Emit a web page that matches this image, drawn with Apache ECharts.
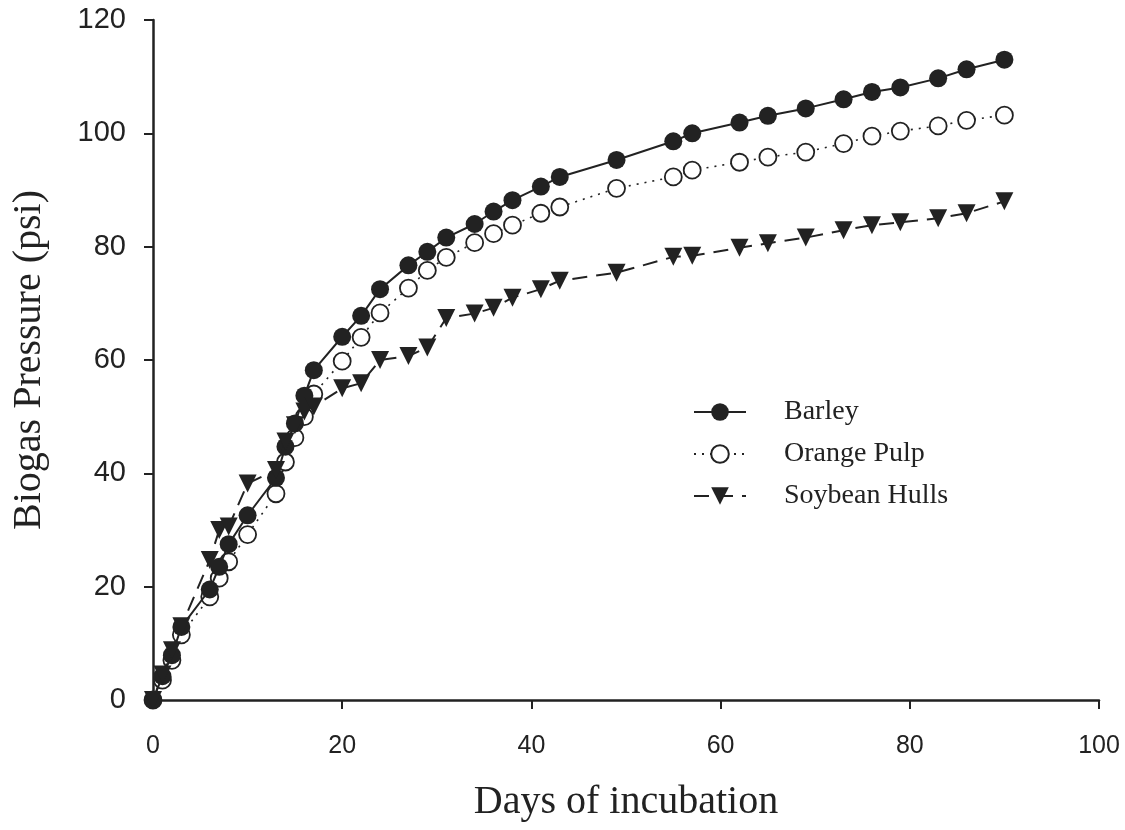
<!DOCTYPE html>
<html>
<head>
<meta charset="utf-8">
<script src="https://cdn.jsdelivr.net/npm/echarts@6/dist/echarts.min.js"></script>
<style>
  html, body { margin: 0; padding: 0; background: #fff; }
  #chart { width: 1125px; height: 830px; }
</style>
</head>
<body>
<div id="chart"></div>
<script>
// days of incubation (shared by all three series)
var days = [0, 1, 2, 3, 6, 7, 8, 10, 13, 14, 15, 16, 17, 20, 22, 24, 27, 29, 31, 34, 36, 38,
            41, 43, 49, 55, 57, 62, 65, 69, 73, 76, 79, 83, 86, 90];

var barley = [0, 4.2, 7.9, 12.9, 19.5, 23.5, 27.5, 32.6, 39.2, 44.7, 48.8, 53.7, 58.2, 64.1, 67.8, 72.5,
              76.7, 79.1, 81.6, 84.0, 86.2, 88.2, 90.6, 92.3, 95.3, 98.6, 100.0, 101.9, 103.1, 104.4,
              106.0, 107.3, 108.1, 109.7, 111.3, 113.0];

var orangePulp = [0, 3.5, 7.0, 11.5, 18.2, 21.5, 24.4, 29.2, 36.4, 42.0, 46.3, 50.0, 54.0, 59.8, 64.0, 68.3,
                  72.7, 75.8, 78.1, 80.7, 82.3, 83.8, 85.9, 87.0, 90.3, 92.3, 93.5, 94.9, 95.8, 96.7,
                  98.2, 99.5, 100.4, 101.3, 102.3, 103.2];

var soybeanHulls = [0, 4.5, 8.8, 13.0, 24.7, 30.0, 30.6, 38.2, 40.6, 45.6, 48.5, 50.9, 51.8, 55.0, 55.9, 60.0,
                    60.7, 62.2, 67.4, 68.2, 69.2, 71.0, 72.5, 74.0, 75.4, 78.2, 78.4, 79.8, 80.6, 81.6,
                    82.9, 83.8, 84.3, 85.0, 85.9, 88.0];

var xTicks = [0, 20, 40, 60, 80, 100];
var yTicks = [0, 20, 40, 60, 80, 100, 120];

function pairs(xs, ys) {
    var out = [];
    for (var i = 0; i < xs.length; i++) {
        out.push([xs[i], ys[i]]);
    }
    return out;
}

var myChart = echarts.init(document.getElementById('chart'));
var option = {
    backgroundColor: '#fff',
    animation: false,
    grid: {
        left: 153,
        top: 20,
        right: 26,
        bottom: 130
    },
    legend: {
        orient: 'vertical',
        left: 688,
        top: 392,
        itemWidth: 52,
        itemHeight: 22,
        itemGap: 12,
        data: ['Barley', 'Orange Pulp', 'Soybean Hulls'],
        textStyle: {
            fontFamily: 'Liberation Serif',
            fontSize: 28,
            color: '#222',
            lineHeight: 30,
            padding: [0, 0, 0, 33]
        }
    },
    xAxis: {
        type: 'value',
        min: xTicks[0],
        max: xTicks[xTicks.length - 1],
        interval: 20,
        name: 'Days of incubation',
        nameLocation: 'middle',
        nameGap: 82,
        nameTextStyle: {
            fontFamily: 'Liberation Serif',
            fontSize: 40,
            color: '#222'
        },
        splitLine: { show: false },
        axisLine: { lineStyle: { color: '#222', width: 2.5 } },
        axisTick: { inside: false, length: 9, lineStyle: { color: '#222', width: 2 } },
        axisLabel: {
            margin: 34,
            fontFamily: 'Liberation Sans Narrow, Liberation Sans',
            fontSize: 25,
            color: '#222'
        }
    },
    yAxis: {
        type: 'value',
        min: yTicks[0],
        max: yTicks[yTicks.length - 1],
        interval: 20,
        name: 'Biogas Pressure (psi)',
        nameLocation: 'middle',
        nameGap: 104,
        nameTextStyle: {
            fontFamily: 'Liberation Serif',
            fontSize: 40,
            color: '#222'
        },
        splitLine: { show: false },
        axisLine: { show: true, lineStyle: { color: '#222', width: 2.5 } },
        axisTick: { show: true, inside: false, length: 9, lineStyle: { color: '#222', width: 2 } },
        axisLabel: {
            margin: 27,
            fontFamily: 'Liberation Sans',
            fontSize: 29,
            color: '#222'
        }
    },
    series: [
        {
            name: 'Orange Pulp',
            type: 'line',
            data: pairs(days, orangePulp),
            symbol: 'circle',
            symbolSize: 17,
            z: 2,
            lineStyle: { color: '#222', width: 1.6, type: [2, 6] },
            itemStyle: { color: '#fff', borderColor: '#222', borderWidth: 1.8 }
        },
        {
            name: 'Barley',
            type: 'line',
            data: pairs(days, barley),
            symbol: 'circle',
            symbolSize: 18,
            z: 3,
            lineStyle: { color: '#222', width: 2 },
            itemStyle: { color: '#222' }
        },
        {
            name: 'Soybean Hulls',
            type: 'line',
            data: pairs(days, soybeanHulls),
            symbol: 'triangle',
            symbolRotate: 180,
            symbolSize: 18,
            z: 4,
            lineStyle: { color: '#222', width: 2, type: [15, 9] },
            itemStyle: { color: '#222' }
        }
    ]
};
myChart.setOption(option);
</script>
</body>
</html>
